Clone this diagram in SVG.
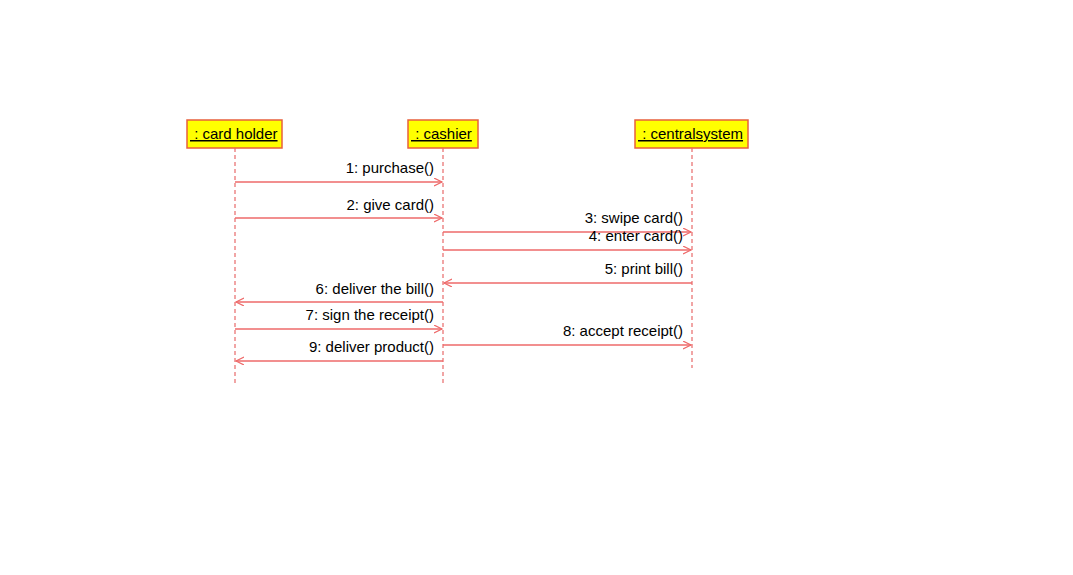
<svg xmlns="http://www.w3.org/2000/svg" width="1073" height="575" viewBox="0 0 1073 575">
<style>
.box{fill:#ffff00;stroke:#e8603c;stroke-width:1.5}
.lt{font-family:"Liberation Sans",Arial,sans-serif;font-size:15px;fill:#000;text-decoration:underline}
.life{stroke:#e86a6a;stroke-width:1.2;stroke-dasharray:4,3;fill:none}
.msg{stroke:#ee6a6a;stroke-width:1.3;fill:none}
.ml{font-family:"Liberation Sans",Arial,sans-serif;font-size:15px;fill:#000;text-anchor:end}
</style>
<defs>
<marker id="ah" markerWidth="10" markerHeight="10" refX="8" refY="4" orient="auto" markerUnits="userSpaceOnUse">
<path d="M0,0 L8,4 L0,8" fill="none" stroke="#ee6a6a" stroke-width="1.2"/>
</marker>
</defs>
<rect width="1073" height="575" fill="#ffffff"/>
<g id="cardholder">
<rect class="box" x="187" y="120" width="95" height="28"/>
<text class="lt" x="190" y="139" xml:space="preserve"> : card holder</text>
<line class="life" x1="235" y1="148" x2="235" y2="385"/>
</g>
<g id="cashier">
<rect class="box" x="408" y="120" width="70" height="28"/>
<text class="lt" x="411" y="139" xml:space="preserve"> : cashier</text>
<line class="life" x1="443" y1="148" x2="443" y2="385"/>
</g>
<g id="centralsystem">
<rect class="box" x="635" y="120" width="113" height="28"/>
<text class="lt" x="638" y="139" xml:space="preserve"> : centralsystem</text>
<line class="life" x1="692" y1="148" x2="692" y2="368"/>
</g>
<g id="connectors">
<line class="msg" x1="235" y1="182" x2="442" y2="182" marker-end="url(#ah)"/>
<text class="ml" x="434" y="173">1: purchase()</text>
<line class="msg" x1="235" y1="218" x2="442" y2="218" marker-end="url(#ah)"/>
<text class="ml" x="434" y="210">2: give card()</text>
<line class="msg" x1="443" y1="232" x2="691" y2="232" marker-end="url(#ah)"/>
<text class="ml" x="683" y="223">3: swipe card()</text>
<line class="msg" x1="443" y1="250" x2="691" y2="250" marker-end="url(#ah)"/>
<text class="ml" x="683" y="241">4: enter card()</text>
<line class="msg" x1="692" y1="283" x2="444" y2="283" marker-end="url(#ah)"/>
<text class="ml" x="683" y="274">5: print bill()</text>
<line class="msg" x1="443" y1="302" x2="236" y2="302" marker-end="url(#ah)"/>
<text class="ml" x="434" y="294">6: deliver the bill()</text>
<line class="msg" x1="235" y1="329" x2="442" y2="329" marker-end="url(#ah)"/>
<text class="ml" x="434" y="320">7: sign the receipt()</text>
<line class="msg" x1="443" y1="345" x2="691" y2="345" marker-end="url(#ah)"/>
<text class="ml" x="683" y="336">8: accept receipt()</text>
<line class="msg" x1="443" y1="361" x2="236" y2="361" marker-end="url(#ah)"/>
<text class="ml" x="434" y="352">9: deliver product()</text>
</g>
</svg>
